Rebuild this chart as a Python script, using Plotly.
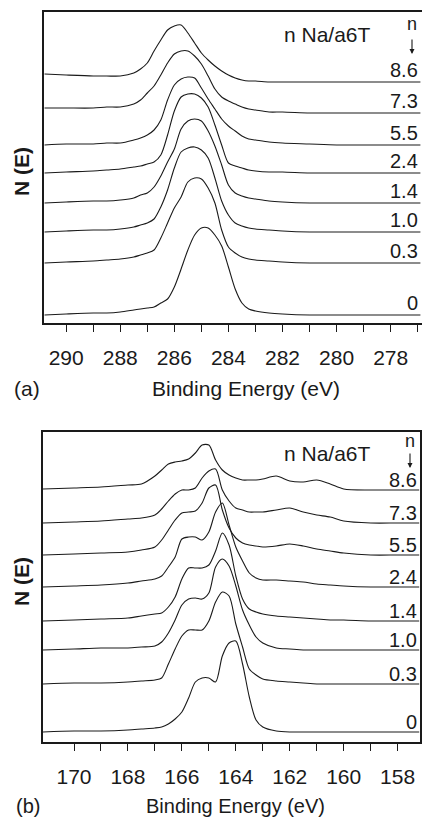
import plotly.graph_objects as go

# ---------------- data ----------------
coverage_labels = ["8.6", "7.3", "5.5", "2.4", "1.4", "1.0", "0.3", "0"]

# Panel (a): C 1s region, binding energies (eV)
energy_a = [290.8, 290, 289, 288.5, 288, 287.5, 287.25, 287, 286.75, 286.5, 286.25, 286,
            285.75, 285.5, 285.25, 285, 284.75, 284.5, 284.25, 284, 283.75, 283.5, 283.25,
            283, 282.5, 282, 281, 280, 279, 278, 276.9]
a_8_6 = [8, 7, 6, 6, 6, 9, 13, 19, 31, 42, 52, 56, 57, 49, 39, 29, 22, 16, 11, 7, 4, 2, 1, 1, 0, 0, 0, 0, 0, 0, 0]
a_7_3 = [5, 5, 5, 6, 6, 9, 13, 20, 27, 38, 50, 59, 62, 62, 57, 49, 37, 24, 16, 12, 9, 6, 4, 3, 1, 1, 0, 0, 0, 0, 0]
a_5_5 = [0, 1, 1, 2, 2, 5, 7, 10, 15, 25, 45, 60, 66, 68, 67, 57, 46, 36, 26, 19, 14, 9, 6, 5, 3, 2, 1, 0, 0, 0, 0]
a_2_4 = [0, 1, 2, 3, 4, 6, 7, 9, 11, 18, 38, 62, 76, 79, 79, 75, 66, 48, 28, 10, 7, 5, 3, 2, 1, 1, 0, 0, 0, 0, 0]
a_1_4 = [0, 1, 2, 2, 3, 5, 8, 10, 16, 27, 41, 54, 74, 82, 84, 82, 72, 57, 38, 18, 10, 7, 5, 4, 2, 1, 0, 0, 0, 0, 0]
a_1_0 = [0, 1, 2, 2, 3, 5, 7, 9, 13, 25, 42, 64, 80, 84, 85, 82, 74, 54, 31, 17, 9, 6, 4, 3, 2, 1, 0, 0, 0, 0, 0]
a_0_3 = [0, 1, 2, 3, 4, 6, 8, 10, 13, 25, 40, 55, 66, 81, 85, 84, 75, 60, 33, 16, 10, 6, 4, 3, 2, 1, 0, 0, 0, 0, 0]
a_0_0 = [0, 1, 2, 2, 3, 5, 6, 7, 8, 12, 16, 28, 46, 65, 80, 87, 87, 80, 69, 48, 26, 12, 6, 4, 2, 1, 0, 0, 0, 0, 0]
series_a = [a_8_6, a_7_3, a_5_5, a_2_4, a_1_4, a_1_0, a_0_3, a_0_0]
stack_offset_a = [241, 210, 178, 150, 120, 91, 60, 8]

# Panel (b): S 2p region, binding energies (eV)
energy_b = [171.15, 170, 169, 168, 167.5, 167, 166.75, 166.5, 166.25, 166, 165.75, 165.5,
            165.25, 165, 164.75, 164.5, 164.25, 164, 163.75, 163.5, 163.25, 163, 162.5,
            162, 161.5, 161, 160.5, 160, 159, 158, 157.2]
b_8_6 = [1, 2, 3, 5, 6, 14, 20, 26, 28, 29, 31, 37, 45, 45, 30, 20, 15, 12, 10, 10, 10, 11, 14, 9, 8, 10, 6, 1, 0, 0, 0]
b_7_3 = [0, 1, 2, 4, 5, 8, 14, 22, 29, 33, 33, 35, 45, 52, 54, 33, 22, 15, 13, 11, 11, 11, 13, 15, 11, 8, 6, 2, 0, 0, 0]
b_5_5 = [0, 1, 2, 3, 5, 8, 15, 25, 35, 42, 43, 44, 52, 67, 70, 45, 27, 17, 12, 10, 9, 8, 9, 11, 9, 6, 4, 2, 0, 0, 0]
b_2_4 = [0, 1, 2, 4, 6, 8, 11, 20, 30, 48, 50, 50, 47, 55, 75, 84, 62, 40, 26, 14, 9, 7, 7, 6, 5, 3, 2, 1, 0, 0, 0]
b_1_4 = [0, 1, 2, 3, 5, 7, 8, 14, 24, 42, 53, 53, 53, 56, 70, 88, 76, 45, 22, 12, 9, 7, 5, 4, 3, 2, 1, 1, 0, 0, 0]
b_1_0 = [0, 1, 2, 2, 3, 4, 8, 17, 30, 45, 51, 52, 51, 57, 83, 91, 84, 64, 40, 25, 13, 7, 2, 1, 0, 0, 0, 0, 0, 0, 0]
b_0_3 = [0, 1, 1, 2, 3, 4, 6, 20, 35, 48, 54, 54, 54, 63, 82, 92, 88, 60, 37, 15, 9, 5, 3, 2, 1, 0, 0, 0, 0, 0, 0]
b_0_0 = [0, 1, 1, 2, 3, 4, 5, 8, 13, 20, 34, 50, 54, 54, 50, 76, 89, 91, 68, 35, 12, 5, 1, 0, 0, 0, 0, 0, 0, 0, 0]
series_b = [b_8_6, b_7_3, b_5_5, b_2_4, b_1_4, b_1_0, b_0_3, b_0_0]
stack_offset_b = [252, 219, 187, 155, 121, 92, 58, 10]

tick_values_a = list(range(277, 291))
tick_values_b = list(range(158, 171))

# ---------------- figure ----------------
W, H = 422, 819
FONT = "Arial, Liberation Sans, sans-serif"
INK = "#1a1a1a"


def px(x):
    return x / W


def py(y):
    return 1 - y / H


fig = go.Figure()

for vals, off in zip(series_a, stack_offset_a):
    fig.add_trace(go.Scatter(x=energy_a, y=[v + off for v in vals], mode="lines",
                             line=dict(color=INK, width=1.1, shape="spline", smoothing=0.8),
                             xaxis="x", yaxis="y", showlegend=False, hoverinfo="skip"))
for vals, off in zip(series_b, stack_offset_b):
    fig.add_trace(go.Scatter(x=energy_b, y=[v + off for v in vals], mode="lines",
                             line=dict(color=INK, width=1.1, shape="spline", smoothing=0.8),
                             xaxis="x2", yaxis="y2", showlegend=False, hoverinfo="skip"))

axis_common = dict(showline=True, mirror=True, linecolor=INK, linewidth=1.5,
                   showgrid=False, zeroline=False)
xcommon = dict(axis_common, ticks="outside", ticklen=7, tickwidth=1.3, tickcolor=INK,
               tickfont=dict(family=FONT, size=21, color=INK), ticklabelstandoff=8)

fig.update_layout(
    width=W, height=H,
    margin=dict(l=0, r=0, t=0, b=0),
    paper_bgcolor="white", plot_bgcolor="white",
    font=dict(family=FONT, color=INK),
    xaxis=dict(xcommon, domain=[px(44), px(421.5)], range=[290.82, 276.86], anchor="y",
               tickmode="array", tickvals=tick_values_a,
               ticktext=[str(v) if v % 2 == 0 else "" for v in tick_values_a]),
    yaxis=dict(axis_common, domain=[py(323), py(12)], range=[0, 311], anchor="x",
               showticklabels=False, ticks=""),
    xaxis2=dict(xcommon, domain=[px(43), px(420)], range=[171.15, 157.17], anchor="y2",
                tickmode="array", tickvals=tick_values_b,
                ticktext=[str(v) if v % 2 == 0 else "" for v in tick_values_b]),
    yaxis2=dict(axis_common, domain=[py(742), py(432)], range=[0, 310], anchor="x2",
                showticklabels=False, ticks=""),
)

ann = []


def text(x, y, s, size=21, xanchor="center", angle=0, bold=False):
    ann.append(dict(x=px(x), y=py(y), xref="paper", yref="paper", text=("<b>%s</b>" % s) if bold else s,
                    showarrow=False, xanchor=xanchor, yanchor="middle", textangle=angle,
                    font=dict(family=FONT, size=size, color=INK)))


# panel (a) texts
text(246, 388, "Binding Energy (eV)")
text(27, 388, "(a)")
text(21, 172, "N (E)", angle=-90, bold=True)
text(327, 35, "n Na/a6T")
text(412, 24, "n", size=18)
# panel (b) texts
text(235, 806, "Binding Energy (eV)", size=20)
text(28, 806, "(b)", size=20)
text(21, 582, "N (E)", angle=-90, bold=True)
text(327, 453, "n Na/a6T")
text(410, 441, "n", size=18)

# arrows under "n"
for xa, y0, y1 in [(412, 38, 54), (410, 452, 468)]:
    ann.append(dict(x=px(xa), y=py(y1), xref="paper", yref="paper", ax=0, ay=-(y1 - y0),
                    axref="pixel", ayref="pixel", showarrow=True, arrowhead=2, arrowsize=0.9,
                    arrowwidth=1.1, arrowcolor=INK, text=""))

# coverage labels, placed just above each curve's baseline
for lab, off in zip(coverage_labels, stack_offset_a):
    ann.append(dict(x=px(420), y=off + 12, xref="paper", yref="y", text=lab, showarrow=False,
                    xanchor="right", yanchor="middle", font=dict(family=FONT, size=20, color=INK)))
for lab, off in zip(coverage_labels, stack_offset_b):
    ann.append(dict(x=px(419), y=off + 10, xref="paper", yref="y2", text=lab, showarrow=False,
                    xanchor="right", yanchor="middle", font=dict(family=FONT, size=20, color=INK)))

fig.update_layout(annotations=ann)
fig.write_html(
    "out.html",
    config={"displayModeBar": False},
    post_script="document.body.style.margin='0';document.body.style.overflow='hidden';",
)
